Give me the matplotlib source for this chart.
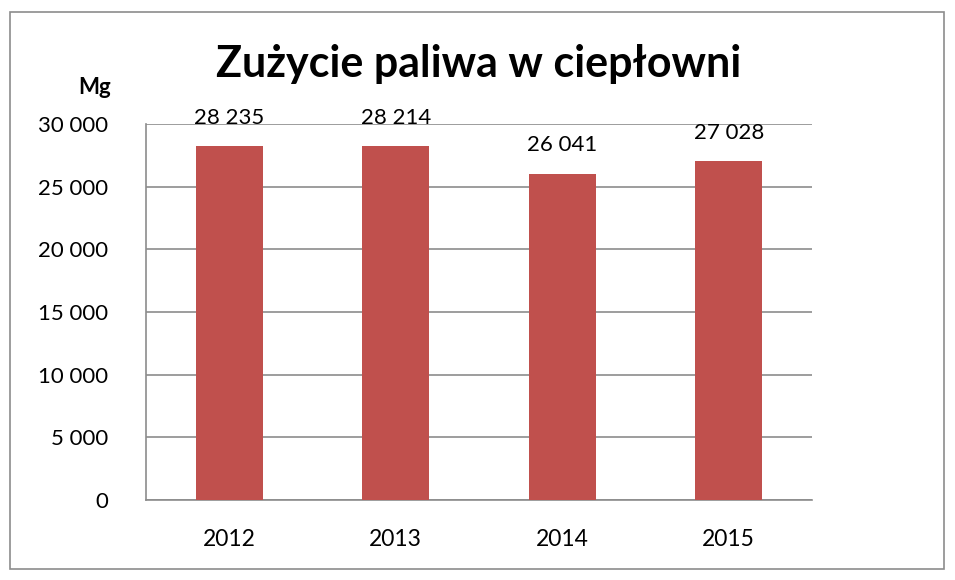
import matplotlib
matplotlib.use("Agg")
import matplotlib.pyplot as plt
from matplotlib.patches import Rectangle

years = ["2012", "2013", "2014", "2015"]
values = [28235, 28214, 26041, 27028]
y_ticks = [0, 5000, 10000, 15000, 20000, 25000, 30000]


def fmt(v):
    return f"{v:,}".replace(",", " ")


plt.rcParams["font.family"] = ["Lato", "DejaVu Sans"]

fig = plt.figure(figsize=(9.55, 5.8), dpi=100)
ax = fig.add_axes([146 / 955, 80 / 580, 666 / 955, 376 / 580])

x = range(len(years))
ax.bar(x, values, width=0.4, color="#C0504D", zorder=3)
for xi, v in zip(x, values):
    ax.text(xi, v + 1450, fmt(v), ha="center", va="bottom", fontsize=16, color="black")

ax.set_xlim(-0.5, len(years) - 0.5)
ax.set_ylim(0, 30000)
ax.set_yticks(y_ticks)
ax.set_yticklabels([fmt(t) for t in y_ticks], fontsize=16)
ax.set_xticks(list(x))
ax.set_xticklabels(years, fontsize=16.5)
ax.tick_params(axis="y", length=0, pad=27)
ax.tick_params(axis="x", length=0, pad=21)
ax.yaxis.grid(True, color="#8c8c8c", linewidth=1.2, zorder=0)
for side in ("top", "right"):
    ax.spines[side].set_visible(False)
for side in ("left", "bottom"):
    ax.spines[side].set_color("#8c8c8c")
    ax.spines[side].set_linewidth(1.2)

fig.text(479 / 955, 1 - 64 / 580, "Zużycie paliwa w ciepłowni", ha="center", va="center",
         fontsize=31, fontweight="bold")
fig.text(95 / 955, 1 - 88 / 580, "Mg", ha="center", va="center", fontsize=16, fontweight="bold")

fig.patches.append(Rectangle((10 / 955, 11 / 580), 934 / 955, 557 / 580, transform=fig.transFigure,
                             fill=False, edgecolor="#8c8c8c", linewidth=1.2))

fig.savefig("out.png", dpi=100)
